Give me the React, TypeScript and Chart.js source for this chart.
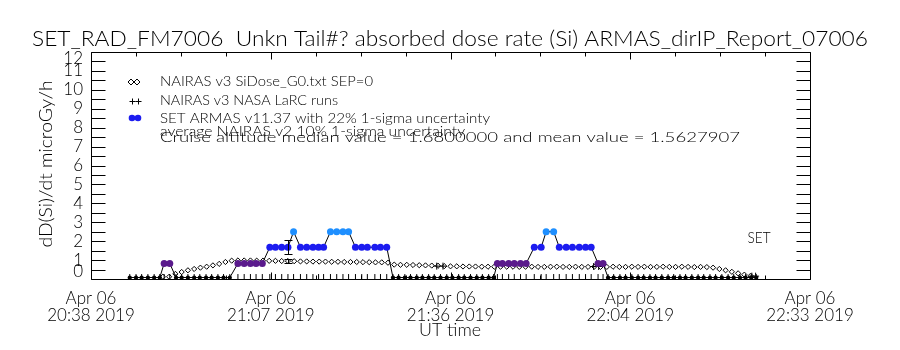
import React, { useEffect, useRef } from "react";
import { Chart, registerables } from "chart.js";

Chart.register(...registerables);

// ---------------- data ----------------
const xTickMinutes = [0, 28.75, 57.5, 86.25, 115];
const xTickDay = ["Apr 06", "Apr 06", "Apr 06", "Apr 06", "Apr 06"];
const xTickTime = ["20:38 2019", "21:07 2019", "21:36 2019", "22:04 2019", "22:33 2019"];
const yTickValues = [0, 1, 2, 3, 4, 5, 6, 7, 8, 9, 10, 11, 12];

// SET ARMAS dose rate samples (minutes after 20:38 UT)
const armasMinutes = [
  6.2, 7.2, 8.1, 9.1, 10.1, 11.0,
  11.7, 12.6,
  13.6, 14.5, 15.5, 16.5, 17.4, 18.4, 19.3, 20.3, 21.2, 22.2,
  23.5, 24.5, 25.5, 26.4, 27.4,
  28.6, 29.5, 30.5, 31.5,
  32.4,
  33.5, 34.5, 35.5, 36.4, 37.2,
  38.3, 39.3, 40.3, 41.2,
  42.3, 43.3, 44.2, 45.4, 46.3, 47.3,
  48.3, 49.2, 50.2, 51.1, 52.1, 53.0, 54.0, 54.9, 55.9, 56.9, 57.8, 58.8, 59.7, 60.7, 61.7, 62.6, 63.6, 64.4,
  65.0, 65.8, 66.8, 67.7, 68.7, 69.6,
  70.9, 72.0,
  72.8, 74.0,
  74.9, 76.0, 77.0, 78.1, 79.1, 80.0,
  81.1, 81.9,
  82.7, 83.6, 84.6, 85.5, 86.5, 87.5, 88.4, 89.4, 90.3, 91.3, 92.3, 93.2, 94.2, 95.1, 96.1, 97.1, 98.0, 99.0, 99.9, 100.9, 101.9, 102.8, 103.8, 104.7, 105.6, 106.4,
];
const armasDose = [
  0.08, 0.08, 0.08, 0.08, 0.08, 0.08,
  0.82, 0.82,
  0.08, 0.08, 0.08, 0.08, 0.08, 0.08, 0.08, 0.08, 0.08, 0.08,
  0.82, 0.82, 0.82, 0.82, 0.82,
  1.68, 1.68, 1.68, 1.68,
  2.5,
  1.68, 1.68, 1.68, 1.68, 1.68,
  2.5, 2.5, 2.5, 2.5,
  1.68, 1.68, 1.68, 1.68, 1.68, 1.68,
  0.08, 0.08, 0.08, 0.08, 0.08, 0.08, 0.08, 0.08, 0.08, 0.08, 0.08, 0.08, 0.08, 0.08, 0.08, 0.08, 0.08, 0.08,
  0.82, 0.82, 0.82, 0.82, 0.82, 0.82,
  1.68, 1.68,
  2.5, 2.5,
  1.68, 1.68, 1.68, 1.68, 1.68, 1.68,
  0.82, 0.82,
  0.08, 0.08, 0.08, 0.08, 0.08, 0.08, 0.08, 0.08, 0.08, 0.08, 0.08, 0.08, 0.08, 0.08, 0.08, 0.08, 0.08, 0.08, 0.08, 0.08, 0.08, 0.08, 0.08, 0.08, 0.08, 0.08,
];
const armasTickLevel = 0.13;

// NAIRAS v3 SiDose_G0 (minutes after 20:38 UT)
const nairasMinutes = [
  11.5, 12.5, 13.5, 14.5, 15.5, 16.5, 17.5, 18.5, 19.5, 20.5,
  21.5, 22.5, 23.5, 24.5, 25.5, 26.5, 27.5, 28.5, 29.5, 30.5,
  31.5, 32.5, 33.5, 34.5, 35.5, 36.5, 37.5, 38.5, 39.5, 40.5,
  41.5, 42.5, 43.5, 44.5, 45.5, 46.5, 47.5, 48.5, 49.5, 50.5,
  51.5, 52.5, 53.5, 54.5, 55.5, 56.5, 57.5, 58.5, 59.5, 60.5,
  61.5, 62.5, 63.5, 64.5, 65.5, 66.5, 67.5, 68.5, 69.5, 70.5,
  71.5, 72.5, 73.5, 74.5, 75.5, 76.5, 77.5, 78.5, 79.5, 80.5,
  81.5, 82.5, 83.5, 84.5, 85.5, 86.5, 87.5, 88.5, 89.5, 90.5,
  91.5, 92.5, 93.5, 94.5, 95.5, 96.5, 97.5, 98.5, 99.5, 100.5,
  101.5, 102.5, 103.5, 104.5, 105.5,
];
const nairasDose = [
  0.12, 0.12, 0.27, 0.37, 0.46, 0.53, 0.6, 0.65, 0.72, 0.8,
  0.9, 0.97, 0.98, 0.98, 0.98, 0.97, 0.97, 0.96, 0.96, 0.95,
  0.95, 0.94, 0.93, 0.93, 0.92, 0.92, 0.92, 0.91, 0.91, 0.9,
  0.9, 0.9, 0.89, 0.89, 0.88, 0.88, 0.86, 0.76, 0.75, 0.75,
  0.74, 0.73, 0.72, 0.71, 0.7, 0.68, 0.67, 0.67, 0.66, 0.66,
  0.66, 0.65, 0.65, 0.65, 0.65, 0.65, 0.65, 0.64, 0.65, 0.65,
  0.64, 0.64, 0.65, 0.65, 0.64, 0.64, 0.65, 0.64, 0.64, 0.65,
  0.64, 0.64, 0.65, 0.64, 0.64, 0.65, 0.64, 0.65, 0.64, 0.64,
  0.65, 0.64, 0.64, 0.65, 0.64, 0.63, 0.64, 0.63, 0.6, 0.53,
  0.46, 0.38, 0.3, 0.23, 0.17,
];

// NAIRAS v3 NASA LaRC runs
const larcMinutes = [55.3, 56.3, 80.4, 81.2, 105.7, 106.3];
const larcDose = [0.68, 0.68, 0.66, 0.66, 0.15, 0.15];

// representative uncertainty bars
const uncertaintyMinute = 31.5;
const armasMedian = 1.68;
const armasSigma = 0.22;
const nairasCruiseAvg = 0.95;
const nairasSigma = 0.1;

const titleText = "SET_RAD_FM7006  Unkn Tail#? absorbed dose rate (Si) ARMAS_dirIP_Report_07006";
const legendLines = [
  "NAIRAS v3 SiDose_G0.txt SEP=0",
  "NAIRAS v3 NASA LaRC runs",
  "SET ARMAS v11.37 with 22% 1-sigma uncertainty",
  "average NAIRAS v2 10% 1-sigma uncertainty",
  "Cruise altitude median value = 1.6800000 and mean value = 1.5627907",
];
const yTitle = "dD(Si)/dt microGy/h";
const xTitle = "UT time";
const instrumentLabel = "SET";

// ---------------- styling ----------------
const FONT = "Lato, 'Liberation Sans', Arial, sans-serif";
const WEIGHT = 300;
const PURPLE = "#5a1a8c";
const BLUE = "#1c1cf0";
const LIGHT_BLUE = "#1e8fff";

function doseColor(v: number) {
  if (v < 0.3) return "#000000";
  if (v < 1.2) return PURPLE;
  if (v < 2.1) return BLUE;
  return LIGHT_BLUE;
}

function fitText(
  ctx: CanvasRenderingContext2D,
  text: string,
  x: number,
  y: number,
  size: number,
  width: number | null,
  align: "left" | "center" | "right" = "left",
  baseline: CanvasTextBaseline = "alphabetic"
) {
  ctx.save();
  ctx.font = `${WEIGHT} ${size}px ${FONT}`;
  ctx.textBaseline = baseline;
  ctx.textAlign = "left";
  const w = ctx.measureText(text).width;
  const sx = width ? width / w : 1;
  const rw = w * sx;
  let x0 = x;
  if (align === "center") x0 = x - rw / 2;
  else if (align === "right") x0 = x - rw;
  ctx.translate(x0, y);
  ctx.scale(sx, 1);
  ctx.fillStyle = "#000";
  ctx.fillText(text, 0, 0);
  ctx.restore();
}

const decorPlugin = {
  id: "idlDecor",
  afterDatasetsDraw(chart: any) {
    const ctx: CanvasRenderingContext2D = chart.ctx;
    const area = chart.chartArea;
    const xs = chart.scales.x;
    const ys = chart.scales.y;
    ctx.save();
    ctx.strokeStyle = "#000";
    ctx.fillStyle = "#000";
    ctx.lineWidth = 1;

    // uncertainty bars
    const ex = Math.round(xs.getPixelForValue(uncertaintyMinute)) + 0.5;
    const bars = [
      [armasMedian * (1 - armasSigma), armasMedian * (1 + armasSigma)],
      [nairasCruiseAvg * (1 - nairasSigma), nairasCruiseAvg * (1 + nairasSigma)],
    ];
    ctx.beginPath();
    for (const [lo, hi] of bars) {
      const y1 = Math.round(ys.getPixelForValue(lo)) + 0.5;
      const y2 = Math.round(ys.getPixelForValue(hi)) + 0.5;
      ctx.moveTo(ex, y1);
      ctx.lineTo(ex, y2);
      ctx.moveTo(ex - 4, y1);
      ctx.lineTo(ex + 4, y1);
      ctx.moveTo(ex - 4, y2);
      ctx.lineTo(ex + 4, y2);
    }
    ctx.stroke();

    // frame
    const L = Math.round(area.left) + 0.5;
    const R = Math.round(area.right) + 0.5;
    const T = Math.round(area.top) + 0.5;
    const B = Math.round(area.bottom) + 0.5;
    ctx.beginPath();
    ctx.rect(L, T, R - L, B - T);
    for (let v = 0; v <= 12; v += 0.5) {
      const y = Math.round(ys.getPixelForValue(v)) + 0.5;
      ctx.moveTo(L, y);
      ctx.lineTo(L + 14, y);
      ctx.moveTo(R, y);
      ctx.lineTo(R - 14, y);
    }
    for (let i = 0; i < xTickMinutes.length; i++) {
      const x = Math.round(xs.getPixelForValue(xTickMinutes[i])) + 0.5;
      ctx.moveTo(x, B);
      ctx.lineTo(x, B - 7);
      ctx.moveTo(x, T);
      ctx.lineTo(x, T + 7);
      if (i < xTickMinutes.length - 1) {
        const step = (xTickMinutes[i + 1] - xTickMinutes[i]) / 4;
        for (let k = 1; k < 4; k++) {
          const xm = Math.round(xs.getPixelForValue(xTickMinutes[i] + k * step)) + 0.5;
          ctx.moveTo(xm, B);
          ctx.lineTo(xm, B - 4);
          ctx.moveTo(xm, T);
          ctx.lineTo(xm, T + 4);
        }
      }
    }
    ctx.stroke();

    // y tick labels (kept inside the axis span like the original)
    for (const v of yTickValues) {
      let y = ys.getPixelForValue(v);
      y = Math.max(area.top + 7, Math.min(area.bottom - 7, y));
      fitText(ctx, String(v), area.left - 8, y, 17, null, "right", "middle");
    }

    // title
    fitText(ctx, titleText, 450, 46, 21, 836, "center");

    // legend symbols
    ctx.beginPath();
    for (const cx of [131, 137]) {
      ctx.moveTo(cx - 3, 82);
      ctx.lineTo(cx, 79);
      ctx.lineTo(cx + 3, 82);
      ctx.lineTo(cx, 85);
      ctx.closePath();
    }
    ctx.stroke();
    ctx.beginPath();
    for (const cx of [132.5, 138.5]) {
      ctx.moveTo(cx - 3, 101.5);
      ctx.lineTo(cx + 3, 101.5);
      ctx.moveTo(cx, 98.5);
      ctx.lineTo(cx, 104.5);
    }
    ctx.stroke();
    ctx.fillStyle = BLUE;
    for (const cx of [132, 138]) {
      ctx.beginPath();
      ctx.arc(cx, 118, 3.3, 0, Math.PI * 2);
      ctx.fill();
    }
    ctx.fillStyle = "#000";

    // legend text
    const lx = 160;
    const lb = [86, 105, 122.5, 135.5, 141.5];
    const lw = [213, 178, 330, 305, 580];
    legendLines.forEach((t, i) => fitText(ctx, t, lx, lb[i], 14, lw[i], "left"));

    // instrument label
    fitText(ctx, instrumentLabel, 759, 238, 16, 23, "center", "middle");

    // axis titles
    fitText(ctx, xTitle, 450, 331, 17, 62, "center", "middle");
    ctx.save();
    ctx.translate(52, 164);
    ctx.rotate(-Math.PI / 2);
    fitText(ctx, yTitle, 0, 0, 17, 167, "center", "alphabetic");
    ctx.restore();

    ctx.restore();
  },
};

export default function App() {
  const ref = useRef<HTMLCanvasElement | null>(null);

  useEffect(() => {
    const canvas = ref.current;
    if (!canvas) return;
    const chart = new Chart(canvas, {
      type: "line",
      data: {
        datasets: [
          {
            label: "SET ARMAS v11.37",
            data: armasMinutes.map((x, i) => ({ x, y: armasDose[i] })),
            showLine: true,
            borderColor: "#000",
            borderWidth: 1,
            pointStyle: "circle",
            pointRadius: (c: any) => (c.raw && c.raw.y < 0.3 ? 2.1 : 3.5),
            pointBackgroundColor: (c: any) => doseColor(c.raw ? c.raw.y : 0),
            pointBorderColor: (c: any) => doseColor(c.raw ? c.raw.y : 0),
            pointBorderWidth: 0,
            tension: 0,
          },
          {
            label: "ARMAS time marks",
            data: armasMinutes.map((x) => ({ x, y: armasTickLevel })),
            showLine: false,
            pointStyle: "line",
            pointRotation: 90,
            pointRadius: 2.5,
            pointBorderColor: "#000",
            pointBorderWidth: 1,
          },
          {
            label: "NAIRAS v3 NASA LaRC runs",
            data: larcMinutes.map((x, i) => ({ x, y: larcDose[i] })),
            showLine: false,
            pointStyle: "cross",
            pointRadius: 3.5,
            pointBorderColor: "#000",
            pointBorderWidth: 1,
          },
          {
            label: "NAIRAS v3 SiDose_G0.txt SEP=0",
            data: nairasMinutes.map((x, i) => ({ x, y: nairasDose[i] })),
            showLine: false,
            pointStyle: "rectRot",
            pointRadius: 2.6,
            pointBackgroundColor: "#fff",
            pointBorderColor: "#000",
            pointBorderWidth: 1,
          },
        ],
      },
      options: {
        animation: false,
        responsive: false,
        events: [],
        layout: { padding: { left: 91, right: 90, top: 52, bottom: 0 } },
        plugins: {
          legend: { display: false },
          tooltip: { enabled: false },
          title: { display: false },
        },
        scales: {
          x: {
            type: "linear",
            min: 0,
            max: 115,
            position: "bottom",
            afterBuildTicks: (s: any) => {
              s.ticks = xTickMinutes.map((v) => ({ value: v }));
            },
            afterFit: (s: any) => {
              s.height = 71;
            },
            grid: { display: false, drawTicks: false },
            border: { display: false },
            ticks: {
              autoSkip: false,
              maxRotation: 0,
              minRotation: 0,
              padding: 11,
              color: "#000",
              font: { family: FONT, size: 17, weight: WEIGHT, lineHeight: "17px" },
              callback: (v: any) => {
                const i = xTickMinutes.indexOf(Number(v));
                return i >= 0 ? [xTickDay[i], xTickTime[i]] : "";
              },
            },
          },
          y: { type: "linear", min: 0, max: 12, display: false },
        },
      },
      plugins: [decorPlugin],
    } as any);
    return () => chart.destroy();
  }, []);

  return (
    <div style={{ position: "absolute", left: 0, top: 0, width: 900, height: 350, background: "#fff" }}>
      <canvas ref={ref} width={900} height={350} style={{ width: 900, height: 350, display: "block" }} />
    </div>
  );
}
